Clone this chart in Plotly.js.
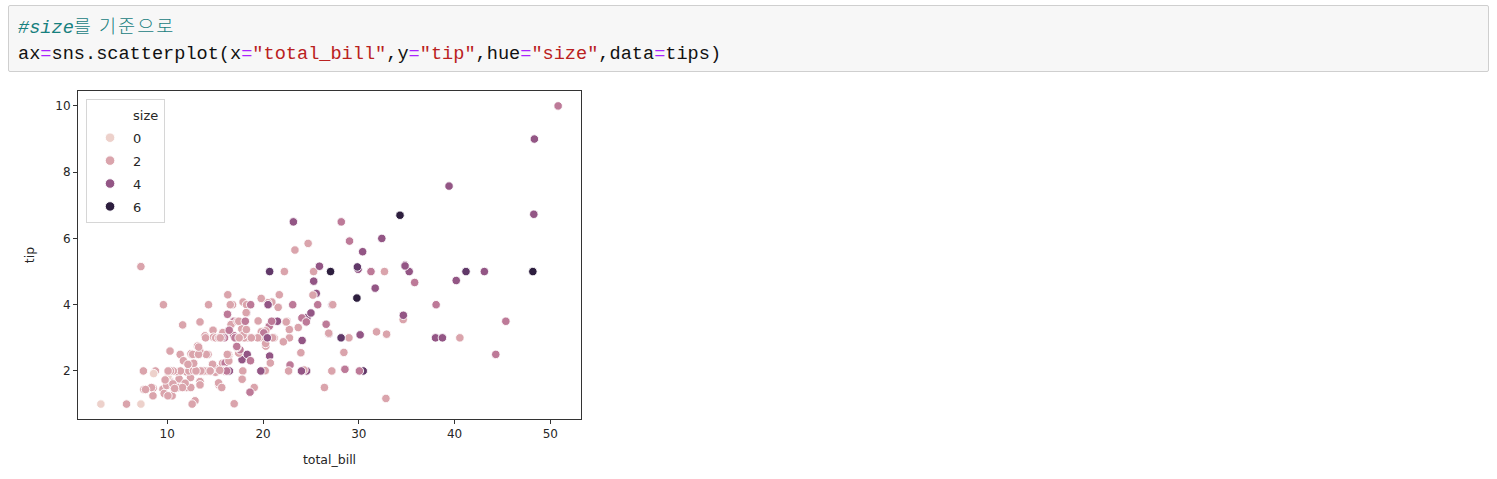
<!DOCTYPE html>
<html>
<head>
<meta charset="utf-8">
<script src="https://cdn.plot.ly/plotly-3.0.1.min.js"></script>
<style>
  html, body { margin:0; padding:0; background:#fff; }
  body { width:1497px; height:479px; position:relative; overflow:hidden; }
  #cell { position:absolute; left:8px; top:5px; width:1479px; height:65px;
          background:#f7f7f7; border:1px solid #cfcfcf; border-radius:2px; }
  #cell pre { position:absolute; left:9px; top:6px; margin:0;
          font-family:"Liberation Mono","DejaVu Sans Mono","Noto Sans CJK KR",monospace;
          font-size:18.6px; line-height:26px; color:#111; }
  .cm { color:#17807e; font-style:italic; }
  .ko { font-family:"Noto Sans CJK KR",sans-serif; font-weight:300; font-style:normal; letter-spacing:2px; }
  .op { color:#aa22ff; }
  .st { color:#ba2121; }
  #chart { position:absolute; left:0; top:0; width:1497px; height:479px; }
</style>
</head>
<body>
<div id="chart"></div>
<div id="cell"><pre><span class="cm">#size<span class="ko">를 기준으로</span></span>
ax<span class="op">=</span>sns.scatterplot(x<span class="op">=</span><span class="st">"total_bill"</span>,y<span class="op">=</span><span class="st">"tip"</span>,hue<span class="op">=</span><span class="st">"size"</span>,data<span class="op">=</span>tips)</pre></div>
<script>
const total_bill = [
16.99,10.34,21.01,23.68,24.59,25.29,8.77,26.88,15.04,14.78,
10.27,35.26,15.42,18.43,14.83,21.58,10.33,16.29,16.97,20.65,
17.92,20.29,15.77,39.42,19.82,17.81,13.37,12.69,21.7,19.65,
9.55,18.35,15.06,20.69,17.78,24.06,16.31,16.93,18.69,31.27,
16.04,17.46,13.94,9.68,30.4,18.29,22.23,32.4,28.55,18.04,
12.54,10.29,34.81,9.94,25.56,19.49,38.01,26.41,11.24,48.27,
20.29,13.81,11.02,18.29,17.59,20.08,16.45,3.07,20.23,15.01,
12.02,17.07,26.86,25.28,14.73,10.51,17.92,27.2,22.76,17.29,
19.44,16.66,10.07,32.68,15.98,34.83,13.03,18.28,24.71,21.16,
28.97,22.49,5.75,16.32,22.75,40.17,27.28,12.03,21.01,12.46,
11.35,15.38,44.3,22.42,20.92,15.36,20.49,25.21,18.24,14.31,
14.0,7.25,38.07,23.95,25.71,17.31,29.93,10.65,12.43,24.08,
11.69,13.42,14.26,15.95,12.48,29.8,8.52,14.52,11.38,22.82,
19.08,20.27,11.17,12.26,18.26,8.51,10.33,14.15,16.0,13.16,
17.47,34.3,41.19,27.05,16.43,8.35,18.64,11.87,9.78,7.51,
14.07,13.13,17.26,24.55,19.77,29.85,48.17,25.0,13.39,16.49,
21.5,12.66,16.21,13.81,17.51,24.52,20.76,31.71,10.59,10.63,
50.81,15.81,7.25,31.85,16.82,32.9,17.89,14.48,9.6,34.63,
34.65,23.33,45.35,23.17,40.55,20.69,20.9,30.46,18.15,23.1,
15.69,19.81,28.44,15.48,16.58,7.56,10.34,43.11,13.0,13.51,
18.71,12.74,13.0,16.4,20.53,16.47,26.59,38.73,24.27,12.76,
30.06,25.89,48.33,13.27,28.17,12.9,28.15,11.59,7.74,30.14,
12.16,13.42,8.58,15.98,13.42,16.27,10.09,20.45,13.28,22.12,
24.01,15.69,11.61,10.77,15.53,10.07,12.6,32.83,35.83,29.03,
27.18,22.67,17.82,18.78];

const tip = [
1.01,1.66,3.5,3.31,3.61,4.71,2.0,3.12,1.96,3.23,
1.71,5.0,1.57,3.0,3.02,3.92,1.67,3.71,3.5,3.35,
4.08,2.75,2.23,7.58,3.18,2.34,2.0,2.0,4.3,3.0,
1.45,2.5,3.0,2.45,3.27,3.6,2.0,3.07,2.31,5.0,
2.24,2.54,3.06,1.32,5.6,3.0,5.0,6.0,2.05,3.0,
2.5,2.6,5.2,1.56,4.34,3.51,3.0,1.5,1.76,6.73,
3.21,2.0,1.98,3.76,2.64,3.15,2.47,1.0,2.01,2.09,
1.97,3.0,3.14,5.0,2.2,1.25,3.08,4.0,3.0,2.71,
3.0,3.4,1.83,5.0,2.03,5.17,2.0,4.0,5.85,3.0,
3.0,3.5,1.0,4.3,3.25,4.73,4.0,1.5,3.0,1.5,
2.5,3.0,2.5,3.48,4.08,1.64,4.06,4.29,3.76,4.0,
3.0,1.0,4.0,2.55,4.0,3.5,5.07,1.5,1.8,2.92,
2.31,1.68,2.5,2.0,2.52,4.2,1.48,2.0,2.0,2.18,
1.5,2.83,1.5,2.0,3.25,1.25,2.0,2.0,2.0,2.75,
3.5,6.7,5.0,5.0,2.3,1.5,1.36,1.63,1.73,2.0,
2.5,2.0,2.74,2.0,2.0,5.14,5.0,3.75,2.61,2.0,
3.5,2.5,2.0,2.0,3.0,3.48,2.24,4.5,1.61,2.0,
10.0,3.16,5.15,3.18,4.0,3.11,2.0,2.0,4.0,3.55,
3.68,5.65,3.5,6.5,3.0,5.0,3.5,2.0,3.5,4.0,
1.5,4.19,2.56,2.02,4.0,1.44,2.0,5.0,2.0,2.0,
4.0,2.01,2.0,2.5,4.0,3.23,3.41,3.0,2.03,2.23,
2.0,5.16,9.0,2.5,6.5,1.1,3.0,1.5,1.44,3.09,
2.2,3.48,1.92,3.0,1.58,2.5,2.0,3.0,2.72,2.88,
2.0,3.0,3.39,1.47,3.0,1.25,1.0,1.17,4.67,5.92,
2.0,2.0,1.75,3.0];

const size = [
2,3,3,2,4,4,2,4,2,2,
2,4,2,4,2,2,3,3,3,3,
2,2,2,4,2,4,2,2,2,2,
2,4,2,4,2,3,3,3,3,3,
3,2,2,2,4,2,2,4,3,2,
2,2,4,2,4,2,4,2,2,4,
2,2,2,4,3,3,2,1,2,2,
2,3,2,2,2,2,2,4,2,2,
2,2,1,2,2,4,2,2,2,2,
2,2,2,2,2,4,2,2,2,2,
2,2,3,2,2,2,2,2,2,2,
2,1,3,2,3,2,4,2,2,4,
2,2,2,2,2,6,2,2,2,3,
2,2,2,2,2,2,2,2,2,2,
2,6,5,6,2,2,3,2,2,2,
2,2,3,4,4,5,6,4,2,4,
4,2,3,2,2,3,2,4,2,2,
3,2,2,2,2,2,2,2,2,2,
4,2,3,4,2,5,3,5,3,3,
2,2,2,2,2,2,2,4,2,2,
3,2,2,2,4,3,3,4,2,2,
3,4,4,2,3,2,5,2,2,4,
2,2,1,3,2,2,2,4,2,2,
4,3,2,2,2,2,2,2,3,3,
2,2,2,2];

const legendLabels = ["0", "2", "4", "6"];
const legendTitle = "size";
const xTicks = [10, 20, 30, 40, 50];
const yTicks = [2, 4, 6, 8, 10];

// seaborn default cubehelix colours for hue "size" (1..6)
const hueColors = {
  0: "rgb(237,209,203)",
  1: "rgb(237,209,203)",
  2: "rgb(218,164,172)",
  3: "rgb(189,122,152)",
  4: "rgb(147,86,133)",
  5: "rgb(97,57,105)",
  6: "rgb(45,30,62)"
};

const FONT = "DejaVu Sans, Liberation Sans, sans-serif";
const TXT = "#262626";

const traces = [{
  type: "scatter",
  mode: "markers",
  x: total_bill,
  y: tip,
  showlegend: false,
  hoverinfo: "x+y",
  marker: {
    size: 8.5,
    color: size.map(s => hueColors[s]),
    line: { color: "#ffffff", width: 0.9 }
  }
}];

// legend: title entry (invisible marker) + hue levels
traces.push({
  type: "scatter", mode: "markers", x: [null], y: [null],
  name: legendTitle, legendgroup: "t",
  marker: { size: 9, color: "rgba(0,0,0,0)", line: { width: 0 } }
});
legendLabels.forEach(lab => {
  traces.push({
    type: "scatter", mode: "markers", x: [null], y: [null],
    name: lab, legendgroup: "g" + lab,
    marker: { size: 9.5, color: hueColors[+lab], line: { color: "#ffffff", width: 0.9 } }
  });
});

const axisCommon = {
  showgrid: false, zeroline: false,
  showline: true, mirror: true, linecolor: "#333333", linewidth: 1,
  ticks: "outside", ticklen: 4, tickwidth: 1, tickcolor: "#333333",
  tickfont: { family: FONT, size: 12, color: TXT },
  fixedrange: true
};

const layout = {
  width: 1497, height: 479,
  margin: { l: 78, r: 916, t: 91, b: 60, pad: 0 },
  paper_bgcolor: "rgba(0,0,0,0)",
  plot_bgcolor: "#ffffff",
  font: { family: FONT, size: 12, color: TXT },
  showlegend: true,
  legend: {
    x: 0.016, y: 0.976, xanchor: "left", yanchor: "top",
    bgcolor: "rgba(255,255,255,0.8)", bordercolor: "#d6d6d6", borderwidth: 1,
    font: { family: FONT, size: 13, color: TXT },
    tracegroupgap: 3, itemwidth: 36, itemclick: false, itemdoubleclick: false
  },
  xaxis: Object.assign({}, axisCommon, {
    range: [0.683, 53.197], tickvals: xTicks, ticktext: xTicks.map(String),
    title: { text: "total_bill", font: { family: FONT, size: 12.5, color: TXT }, standoff: 14 }
  }),
  yaxis: Object.assign({}, axisCommon, {
    range: [0.55, 10.45], tickvals: yTicks, ticktext: yTicks.map(String),
    title: { text: "tip", font: { family: FONT, size: 12.5, color: TXT }, standoff: 17 }
  })
};

Plotly.newPlot("chart", traces, layout, { displayModeBar: false, responsive: false });
</script>
</body>
</html>
